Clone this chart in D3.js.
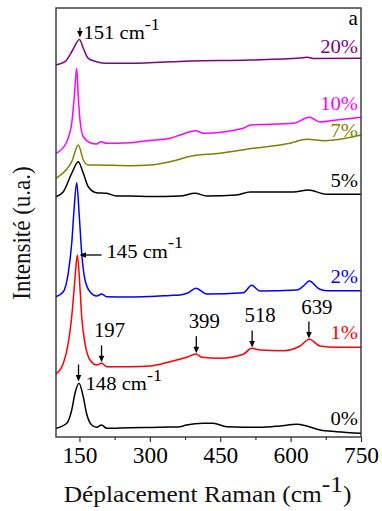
<!DOCTYPE html>
<html><head><meta charset="utf-8">
<script src="https://cdn.jsdelivr.net/npm/d3@7"></script>
<style>
body{margin:0;background:#fff}
svg{display:block}
</style>
</head><body>
<svg id="c" width="382" height="511"></svg>
<script>
// ---------- DATA (Raman shift in cm-1, intensity in a.u.) ----------
const xTicks = [150, 300, 450, 600, 750];
const xMinorTicks = [225, 375, 525, 675];
const seriesNames = ["0%", "1%", "2%", "5%", "7%", "10%", "20%"];

const s0 = [[100,8.7],[123,13.7],[133.5,27],[140.5,43.7],[149,53.7],[158,40.3],[165,23.7],[176,12],[187,9.7],[197,12],[208,8.7],[258,9.3],[300,9.5],[343,10],[364,10.3],[378,12],[414,13.7],[435,13.7],[464,10.3],[535,9.7],[577,11],[613,12.7],[634,11],[663,7],[698,5.3],[750,3.7]];
const s1 = [[100,63],[115.6,73.7],[126,93.7],[133.5,120.3],[138.4,147],[141.5,165],[145.4,182],[151,150.3],[154.8,120.3],[161.8,93.7],[172.5,77],[186.7,72],[197.4,73.7],[208,70.3],[257.7,70.3],[300.3,71],[343,75.3],[378.5,79.7],[398.4,83],[410.5,79.7],[449.5,78.7],[499,82.7],[517,88.7],[535,87],[584.5,86.3],[620,91],[639.8,97.7],[662.6,91],[698,89.7],[750,89.7]];
const s2 = [[100,140.3],[115.6,145.3],[126,163.7],[133.5,193.7],[138.4,227],[144.1,254.3],[149.7,220.3],[154.8,183.7],[161.8,157],[172.5,145.3],[186.7,141],[197.4,143],[208,140.3],[257.7,140],[300,140.5],[343,141.5],[364.3,142],[381.9,144.3],[398.4,148.7],[421.2,143],[499.2,144.3],[517.1,151.7],[534.8,146],[613,147],[625.7,150.3],[639.8,156],[661.1,148],[676.9,146.3],[750,146.3]];
const s5 = [[100,240.3],[115.6,245.3],[133.5,263.7],[147.5,275.3],[158.2,263.7],[168.8,250.3],[186.7,244.3],[208,243.7],[229,241],[257.7,241],[300,240.5],[364.3,241],[396.2,243.7],[421.2,241],[485,242],[513.4,245],[605.7,245],[637.7,247],[676.9,242.7],[750,242.7]];
const s7 = [[100,258.7],[122.8,267.7],[133.5,275.3],[147.5,292],[158.2,277],[168.8,272],[186.7,272],[257.7,271.3],[300,272],[343,275.3],[389.2,281],[449.5,283.7],[520.5,288.7],[598.7,293.7],[634.3,297.7],[673.3,296.3],[750,302]];
const s10 = [[100,283.7],[119.2,292],[133.5,313.7],[139,340.3],[144.1,368.7],[147.5,340.3],[151.1,317],[158.2,300.3],[172.5,294.3],[186.7,293],[195.3,295.3],[208,293.7],[257.7,294.3],[300,296.5],[343,298.7],[364.3,302],[398.4,306.3],[413.9,303.7],[499.2,308.7],[514.9,312],[605.7,313.7],[639.8,319.7],[662.6,315],[698.2,317],[750,319.7]];
const s20 = [[100,372],[119.2,375.3],[135.6,387],[150,397.5],[158.2,388.7],[168.8,378.7],[186.7,375.3],[208,373.7],[257.7,373.7],[385.6,376],[513.4,377],[620,379],[635,379.7],[652,378.5],[750,378.7]];

const peakLabels = ["197", "399", "518", "639"];
const peakShifts = [197, 399, 518, 639];

// ---------- LAYOUT / STYLE ----------
const FONT = '"Liberation Serif", "Times New Roman", serif';
const seriesData = [s0, s1, s2, s5, s7, s10, s20];
const seriesColors = ["#000000", "#ff0000", "#0000ff", "#000000", "#808000", "#ff00ff", "#800080"];
const labelDy = [-8, -8, -7.5, -7.5, 2, -7.5, -5.5];

const svg = d3.select("#c");
const X0 = 56, X1 = 361, Y0 = 8, Y1 = 437;
const x = d3.scaleLinear().domain([100, 750]).range([X0, X1]);
const y = d3.scaleLinear().domain([0, 429]).range([Y1, Y0]);

function valueAt(s, v) {
  for (let i = 1; i < s.length; i++) {
    if (v <= s[i][0]) {
      const t = (v - s[i-1][0]) / (s[i][0] - s[i-1][0]);
      return s[i-1][1] + t * (s[i][1] - s[i-1][1]);
    }
  }
  return s[s.length-1][1];
}

// text helper: horizontally widened serif text, as in the reference
function addText(px, py, size, opts = {}) {
  const sx = opts.sx || 1.06;
  return svg.append("text")
    .attr("transform", `translate(${px},${py}) scale(${sx},1)`)
    .attr("text-anchor", opts.anchor || "start")
    .attr("font-size", size).attr("fill", opts.color || "#000")
    .style("font-family", FONT);
}

// series lines
const line = d3.line().x(d => x(d[0])).y(d => y(d[1])).curve(d3.curveMonotoneX);
seriesData.forEach((s, i) => {
  svg.append("path").attr("d", line(s)).attr("fill", "none")
    .attr("stroke", seriesColors[i]).attr("stroke-width", 1.5).attr("stroke-linejoin", "round");
});

// frame
svg.append("rect").attr("x", X0).attr("y", Y0).attr("width", X1 - X0).attr("height", Y1 - Y0)
  .attr("fill", "none").attr("stroke", "#333").attr("stroke-width", 1.4);

// x axis
const gx = svg.append("g").attr("transform", `translate(0,${Y1})`)
  .call(d3.axisBottom(x).tickValues(xTicks).tickSize(5).tickPadding(5).tickFormat(d3.format("d")));
gx.select(".domain").remove();
gx.selectAll("line").attr("stroke", "#333").attr("stroke-width", 1.2);
gx.selectAll("text").attr("font-size", 22.5).attr("fill", "#000")
  .attr("transform", "scale(1.04,1)")
  .style("font-family", FONT);
const gm = svg.append("g").attr("transform", `translate(0,${Y1})`)
  .call(d3.axisBottom(x).tickValues(xMinorTicks).tickSize(3).tickFormat(""));
gm.select(".domain").remove();
gm.selectAll("line").attr("stroke", "#333").attr("stroke-width", 1.2);

// axis titles
const xt = addText(207.5, 501.5, 23, {anchor: "middle", sx: 1.105, color: "#111"});
xt.append("tspan").text("Déplacement Raman (cm");
xt.append("tspan").attr("dy", -10).text("-1");
xt.append("tspan").attr("dy", 10).text(")");

svg.append("text").attr("transform", "translate(30,233) rotate(-90) scale(1,1.1)")
  .attr("text-anchor", "middle").attr("font-size", 23).attr("fill", "#111")
  .style("font-family", FONT).text("Intensité (u.a.)");

// panel letter
addText(358, 25, 20, {anchor: "end"}).text("a");

// series labels
seriesData.forEach((s, i) => {
  addText(358, y(s[s.length-1][1]) + labelDy[i], 19.5, {anchor: "end", color: seriesColors[i]})
    .text(seriesNames[i]);
});

// arrows
function downArrow(xp, yTop, yTip) {
  svg.append("line").attr("x1", xp).attr("x2", xp).attr("y1", yTop).attr("y2", yTip - 4)
    .attr("stroke", "#000").attr("stroke-width", 1.3);
  svg.append("path").attr("d", `M${xp-2.8},${yTip-6.5}L${xp+2.8},${yTip-6.5}L${xp},${yTip}Z`).attr("fill", "#000");
}
function leftArrow(xTip, xTail, yp) {
  svg.append("line").attr("x1", xTip + 4).attr("x2", xTail).attr("y1", yp).attr("y2", yp)
    .attr("stroke", "#000").attr("stroke-width", 1.3);
  svg.append("path").attr("d", `M${xTip+6.5},${yp-2.8}L${xTip+6.5},${yp+2.8}L${xTip},${yp}Z`).attr("fill", "#000");
}
function cmLabel(xp, yp, num) {
  const t = addText(xp, yp, 19.5, {sx: 1.06});
  t.append("tspan").text(num + " cm");
  t.append("tspan").attr("dy", -9.5).attr("font-size", 17).text("-1");
}

// 151 cm-1 on 20%
{
  const xp = x(151), tip = y(valueAt(s20, 151)) - 3;
  downArrow(xp, tip - 10, tip);
  cmLabel(xp + 3.5, 39, "151");
}
// 145 cm-1 on 2% / 1%
{
  const yp = y(valueAt(s1, 145.4));
  leftArrow(x(150), x(197), yp);
  cmLabel(x(197) + 5, yp + 2.5, "145");
}
// 148 cm-1 on 0%
{
  const xp = x(148), tip = y(valueAt(s0, 148)) - 3;
  downArrow(xp, tip - 17, tip);
  cmLabel(xp + 7, 390, "148");
}
// small peaks on 1%
peakShifts.forEach((v, i) => {
  const xp = x(v), tip = y(valueAt(s1, v)) - 1;
  downArrow(xp, tip - 17, tip);
  addText(xp + 8, tip - 25, 20, {anchor: "middle", sx: 1.04}).text(peakLabels[i]);
});
</script>
</body></html>
